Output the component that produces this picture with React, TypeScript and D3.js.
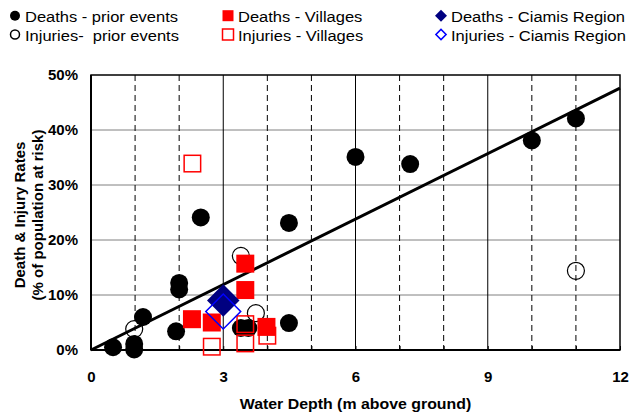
import * as React from 'react';
import * as d3 from 'd3';

// water depth (m) and rate (%)
const deathsPriorX = [0.5, 0.98, 0.98, 1.18, 1.93, 2.0, 2.0, 2.49, 3.4, 3.57, 4.49, 4.49, 6.0, 7.24, 10.0, 11.0];
const deathsPriorY = [0.5, 1.1, 0.1, 6.0, 3.4, 12.2, 11.0, 24.1, 4.0, 4.0, 4.9, 23.1, 35.1, 33.8, 38.1, 42.1];

const injuriesPriorX = [0.98, 3.4, 3.74, 11.0];
const injuriesPriorY = [3.8, 17.1, 6.7, 14.4];

const deathsVillageX = [2.29, 2.74, 3.5, 3.5, 3.98];
const deathsVillageY = [5.6, 5.0, 15.7, 10.9, 4.2];

const injuriesVillageX = [2.3, 2.74, 3.5, 3.5, 4.0];
const injuriesVillageY = [33.9, 0.6, 4.7, 1.2, 2.6];

const deathsCiamisX = [3.0];
const deathsCiamisY = [9.0];
const injuriesCiamisX = [3.0];
const injuriesCiamisY = [7.0];

const trendX = [0, 12];
const trendY = [0, 47.6];

const xTicks = [0, 3, 6, 9, 12];
const xMinor = [1, 2, 4, 5, 7, 8, 10, 11];
const yTicks = [0, 10, 20, 30, 40, 50];

const legendItems = [
  { label: 'Deaths - prior events', shape: 'circle', filled: true, color: '#000' },
  { label: 'Injuries-  prior events', shape: 'circle', filled: false, color: '#000' },
  { label: 'Deaths - Villages', shape: 'square', filled: true, color: '#ff0000' },
  { label: 'Injuries - Villages', shape: 'square', filled: false, color: '#ff0000' },
  { label: 'Deaths - Ciamis Region', shape: 'diamond', filled: true, color: '#000080' },
  { label: 'Injuries - Ciamis Region', shape: 'diamond', filled: false, color: '#0000ff' },
];

const FONT = '"Liberation Sans", Arial, sans-serif';

const App = () => {
  const ref = React.useRef<SVGSVGElement>(null);

  React.useEffect(() => {
    const svg = d3.select(ref.current);
    svg.selectAll('*').remove();

    const margin = { top: 75, right: 10, bottom: 64, left: 91 };
    const width = 630 - margin.left - margin.right;
    const height = 414 - margin.top - margin.bottom;

    const x = d3.scaleLinear().domain([0, 12]).range([0, width]);
    const y = d3.scaleLinear().domain([0, 50]).range([height, 0]);

    const g = svg.append('g').attr('transform', `translate(${margin.left},${margin.top})`);

    // horizontal gridlines
    g.selectAll('.hgrid').data(yTicks.slice(1, -1)).enter()
      .append('line')
      .attr('x1', 0).attr('x2', width)
      .attr('y1', d => y(d)).attr('y2', d => y(d))
      .attr('stroke', '#808080').attr('stroke-width', 1);

    // dashed minor verticals
    g.selectAll('.vminor').data(xMinor).enter()
      .append('line')
      .attr('x1', d => x(d)).attr('x2', d => x(d))
      .attr('y1', 0).attr('y2', height)
      .attr('stroke', '#000').attr('stroke-width', 1)
      .attr('stroke-dasharray', '6,4');

    // solid major verticals
    g.selectAll('.vmajor').data(xTicks.slice(1, -1)).enter()
      .append('line')
      .attr('x1', d => x(d)).attr('x2', d => x(d))
      .attr('y1', 0).attr('y2', height)
      .attr('stroke', '#000').attr('stroke-width', 1);

    // frame
    g.append('rect')
      .attr('x', 0).attr('y', 0).attr('width', width).attr('height', height)
      .attr('fill', 'none').attr('stroke', '#000').attr('stroke-width', 1.5);
    g.append('line').attr('x1', 0).attr('x2', 0).attr('y1', 0).attr('y2', height)
      .attr('stroke', '#000').attr('stroke-width', 2);
    g.append('line').attr('x1', 0).attr('x2', width).attr('y1', height).attr('y2', height)
      .attr('stroke', '#000').attr('stroke-width', 2);

    // x axis ticks and labels
    const xAxis = d3.axisBottom(x).tickValues(d3.range(0, 13)).tickSize(4)
      .tickFormat((d: any) => (xTicks.includes(d) ? String(d) : ''));
    const xg = g.append('g').attr('transform', `translate(0,${height})`).call(xAxis);
    xg.select('.domain').remove();
    xg.selectAll('line').attr('transform', 'translate(0,-4)');
    xg.selectAll('text')
      .attr('y', 32)
      .attr('dy', 0)
      .attr('font-family', FONT).attr('font-size', 15).attr('font-weight', 'bold').attr('fill', '#000');

    const yAxis = d3.axisLeft(y).tickValues(yTicks).tickSize(0).tickPadding(13)
      .tickFormat((d: any) => `${d}%`);
    const yg = g.append('g').call(yAxis);
    yg.select('.domain').remove();
    yg.selectAll('text')
      .attr('font-family', FONT).attr('font-size', 15).attr('font-weight', 'bold').attr('fill', '#000');

    // trend line
    const line = d3.line<number>().x(d => x(trendX[d])).y(d => y(trendY[d]));
    g.append('path').datum([0, 1]).attr('d', line)
      .attr('fill', 'none').attr('stroke', '#000').attr('stroke-width', 3);

    const pts = (xs: number[], ys: number[]) => xs.map((v, i) => [v, ys[i]]);

    // prior events
    g.selectAll('.dp').data(pts(deathsPriorX, deathsPriorY)).enter()
      .append('circle')
      .attr('cx', d => x(d[0])).attr('cy', d => y(d[1])).attr('r', 9)
      .attr('fill', '#000');
    g.selectAll('.ip').data(pts(injuriesPriorX, injuriesPriorY)).enter()
      .append('circle')
      .attr('cx', d => x(d[0])).attr('cy', d => y(d[1])).attr('r', 8.5)
      .attr('fill', 'none').attr('stroke', '#000').attr('stroke-width', 1.2);

    // villages
    const sq = 18;
    g.selectAll('.dv').data(pts(deathsVillageX, deathsVillageY)).enter()
      .append('rect')
      .attr('x', d => x(d[0]) - sq / 2).attr('y', d => y(d[1]) - sq / 2)
      .attr('width', sq).attr('height', sq).attr('fill', '#ff0000');
    g.selectAll('.iv').data(pts(injuriesVillageX, injuriesVillageY)).enter()
      .append('rect')
      .attr('x', d => x(d[0]) - sq / 2 + 0.75).attr('y', d => y(d[1]) - sq / 2 + 0.75)
      .attr('width', sq - 1.5).attr('height', sq - 1.5)
      .attr('fill', 'none').attr('stroke', '#ff0000').attr('stroke-width', 1.5);

    // Ciamis region (squares turned 45 degrees)
    g.selectAll('.dc').data(pts(deathsCiamisX, deathsCiamisY)).enter()
      .append('path')
      .attr('d', d3.symbol().type(d3.symbolSquare).size(530)())
      .attr('transform', d => `translate(${x(d[0])},${y(d[1])}) rotate(45)`)
      .attr('fill', '#000080');
    g.selectAll('.ic').data(pts(injuriesCiamisX, injuriesCiamisY)).enter()
      .append('path')
      .attr('d', d3.symbol().type(d3.symbolSquare).size(610)())
      .attr('transform', d => `translate(${x(d[0])},${y(d[1])}) rotate(45)`)
      .attr('fill', 'none').attr('stroke', '#0000ff').attr('stroke-width', 1.5);

    // axis titles
    g.append('text')
      .attr('transform', `translate(${width / 2},${height + 59}) scale(1.06,1)`)
      .attr('text-anchor', 'middle')
      .attr('font-family', FONT).attr('font-size', 15).attr('font-weight', 'bold')
      .text('Water Depth (m above ground)');

    const yt = svg.append('text')
      .attr('transform', 'rotate(-90)')
      .attr('text-anchor', 'middle')
      .attr('font-family', FONT).attr('font-size', 15).attr('font-weight', 'bold');
    yt.append('tspan').attr('x', -215).attr('y', 25).text('Death & Injury Rates');
    yt.append('tspan').attr('x', -215).attr('y', 43).text('(% of population at risk)');

    // legend
    const cols = [15, 228, 441];
    const rows = [15.7, 34.5];
    legendItems.forEach((item, i) => {
      const cx = cols[Math.floor(i / 2)];
      const cy = rows[i % 2];
      let mark;
      if (item.shape === 'circle') {
        mark = svg.append('circle').attr('cx', cx).attr('cy', cy).attr('r', item.filled ? 5 : 4.5);
      } else if (item.shape === 'square') {
        mark = svg.append('rect').attr('x', cx - 5.5).attr('y', cy - 5.5).attr('width', 11).attr('height', 11);
      } else {
        mark = svg.append('path').attr('d', d3.symbol().type(d3.symbolSquare).size(item.filled ? 72 : 52)())
          .attr('transform', `translate(${cx},${cy}) rotate(45)`);
      }
      if (item.filled) mark.attr('fill', item.color);
      else mark.attr('fill', 'none').attr('stroke', item.color).attr('stroke-width', 1.5);
      svg.append('text')
        .attr('transform', `translate(${cx + 10},${cy + 6}) scale(1.1,1)`)
        .attr('font-family', FONT).attr('font-size', 15)
        .style('white-space', 'pre')
        .text(item.label);
    });
  }, []);

  return (
    <svg
      ref={ref}
      width={630}
      height={414}
      style={{ position: 'absolute', left: 0, top: 0, background: '#fff' }}
    />
  );
};

export default App;
